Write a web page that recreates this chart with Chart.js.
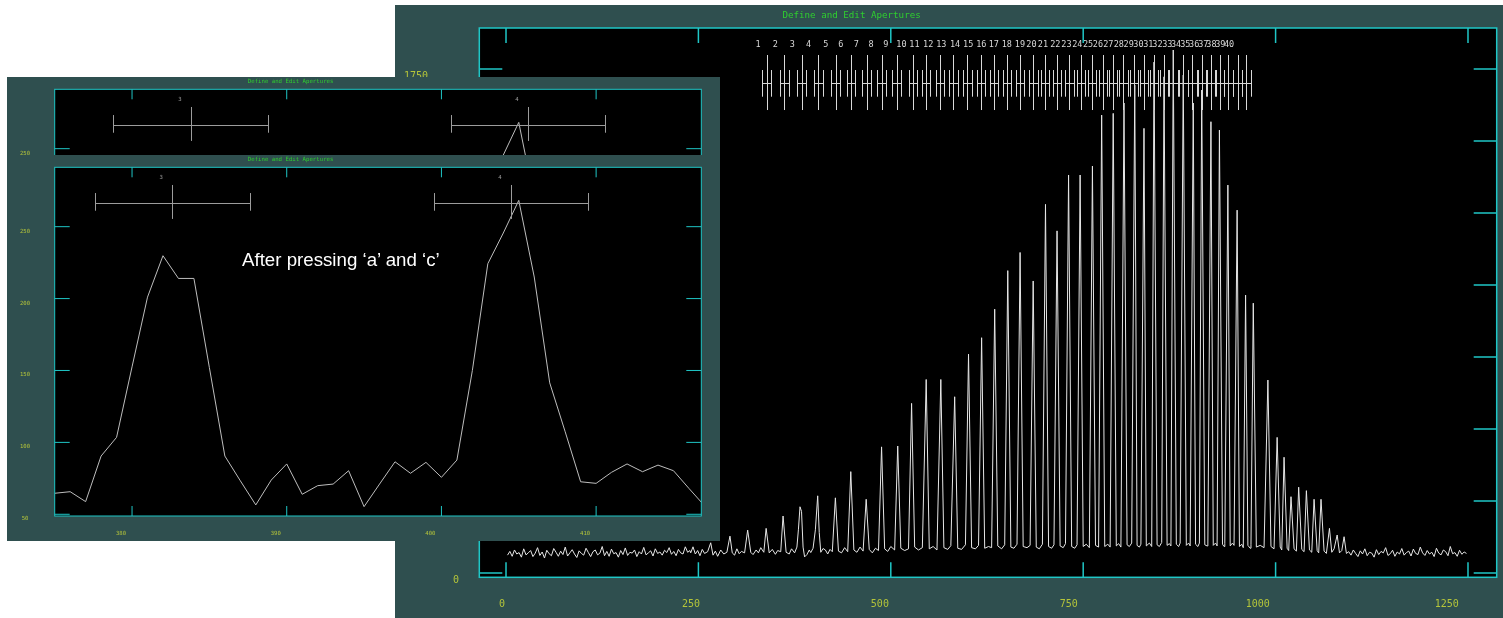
<!DOCTYPE html>
<html>
<head>
<meta charset="utf-8">
<script src="https://cdn.jsdelivr.net/npm/chart.js@4.4.1/dist/chart.umd.min.js"></script>
<style>
  html, body { margin: 0; padding: 0; background: #fff; width: 1503px; height: 618px; overflow: hidden; }
  .win { position: absolute; background: #2f4f4f; }
  #bigWin { left: 395px; top: 5px; width: 1108px; height: 613px; }
  #backWin { left: 7px; top: 77px; width: 713px; height: 386px; }
  #frontWin { left: 7px; top: 155px; width: 713px; height: 386px; }
  canvas { display: block; }
  #note { position: absolute; left: 235px; top: 94px; color: #fff; font: 18.7px "Liberation Sans", Arial, sans-serif; white-space: nowrap; }
</style>
</head>
<body>
<div class="win" id="bigWin"><canvas id="bigChart" width="1108" height="613"></canvas></div>
<div class="win" id="backWin"><canvas id="backChart" width="713" height="386"></canvas></div>
<div class="win" id="frontWin"><canvas id="frontChart" width="713" height="386"></canvas>
  <div id="note">After pressing ‘a’ and ‘c’</div>
</div>
<script>
// ---- big plot: whole spectrum ----
var bigXTicks = [0, 250, 500, 750, 1000, 1250];
var bigYTicks = [0, 250, 500, 750, 1000, 1250, 1500, 1750];
var apIds = [1,2,3,4,5,6,7,8,9,10,11,12,13,14,15,16,17,18,19,20,21,22,23,24,25,26,27,28,29,30,31,32,33,34,35,36,37,38,39,40];
var apCenters = [338.7,361.6,384.2,405.8,428.4,448.3,468.7,488.2,507.7,528.5,545.8,564,581.3,599.5,616.9,634.2,650.7,668,685.3,700.5,
                 715.7,732.1,746.9,761.2,775.5,788.5,802.3,816.2,829.2,842.2,855.2,867.3,880.3,892,904.2,915.9,928,938.8,950.5,962];

// flat noisy part left of the orders, one reading every 3 columns from column 2
var noiseLeft = [62,75,58,80,66,71,55,84,63,70,78,57,69,88,61,73,52,79,67,60,85,72,58,76,64,90,59,70,81,66,54,77,68,62,86,71,57,74,80,63,
                 69,92,60,75,58,83,67,71,55,78,64,87,61,72,69,80,57,74,66,89,63,70,77,59,84,68,73,62,79,71,88,65,75,60,82,70,66,91,72,78];
// orders: [column, counts]
var orders = [[240,70],[243,91],[246,66],[249,78],[252,60],[255,82],[258,68],[262,74],[266,105],[269,62],[272,76],[275,58],[279,80],[283,66],
  [287,72],[291,128],[294,70],[297,62],[300,84],[303,67],[306,75],[310,70],[314,149],[318,72],[321,64],[325,80],[328,70],[331,88],[335,72],
  [338,155],[342,70],[346,82],[350,65],[353,78],[357,74],[360,198],[364,72],[368,66],[371,84],[375,70],[378,90],[380,152],[382,230],[384,214],
  [386,90],[388,56],[391,64],[394,80],[396,71],[399,86],[402,150],[405,268],[407,141],[409,72],[412,85],[415,80],[418,66],[421,82],[424,74],
  [428,261],[432,76],[436,70],[440,88],[444,74],[448,352],[452,80],[456,72],[460,90],[464,76],[468,256],[472,82],[476,70],[480,86],[484,78],
  [488,438],[492,84],[496,75],[500,92],[505,80],[509,441],[513,86],[518,78],[523,84],[527,589],[531,90],[536,80],[541,88],[546,672],[550,84],
  [555,92],[560,80],[565,672],[569,88],[574,82],[578,95],[583,612],[587,86],[592,82],[597,98],[601,760],[605,88],[610,84],[614,96],[618,817],
  [622,86],[627,92],[631,88],[635,916],[639,94],[644,84],[648,98],[652,1050],[656,90],[660,86],[664,100],[668,1113],[672,92],[677,88],[681,96],
  [685,1014],[689,90],[693,84],[697,100],[701,1280],[705,92],[709,86],[712,98],[716,1188],[720,94],[724,88],[727,102],[731,1382],[735,92],
  [739,86],[742,98],[746,1382],[750,92],[754,100],[758,88],[762,1413],[766,96],[770,90],[774,1590],[778,92],[782,100],[785,90],[789,1596],
  [793,94],[796,102],[799,90],[803,1632],[807,98],[810,92],[813,104],[817,1694],[820,96],[823,90],[825,100],[829,1544],[832,94],[836,104],
  [839,92],[842,1774],[846,98],[849,92],[852,106],[855,1723],[859,96],[862,102],[864,94],[867,1816],[871,100],[874,92],[876,104],[880,1729],
  [884,96],[887,104],[889,94],[893,1632],[896,100],[899,92],[901,104],[904,1677],[908,98],[911,94],[912,104],[916,1567],[919,96],[922,104],
  [924,94],[927,1538],[931,100],[933,92],[934,102],[938,1347],[941,94],[944,104],[946,96],[950,1260],[953,92],[956,100],[958,88],[961,965],
  [964,96],[967,86],[968,98],[971,937],[975,90],[980,96],[985,88],[990,670],[994,92],[998,84],[1002,471],[1006,90],[1008,80],[1011,402],
  [1015,86],[1017,78],[1020,265],[1024,84],[1027,76],[1030,298],[1034,82],[1037,74],[1040,286],[1044,80],[1047,72],[1050,256],[1054,78],
  [1056,70],[1059,256],[1063,76],[1066,68],[1070,155],[1073,72],[1076,84],[1080,132],[1083,70],[1086,78],[1089,126],[1092,68]];
// flat noisy part right of the orders, every 3 columns from column 1095
var noiseRight = [74,62,80,68,57,77,66,84,60,72,69,55,81,64,75,70,88,61,67,79,58,73,66,85,62,71,76,59,83,68,64,90,70,61,78,66,72,57,86,69,
                  63,80,74,60,92,67,71,58,79,65,73,68];

// ---- zoomed plots: apertures 3 and 4 ----
var zoomX = [375,376,377,378,379,380,381,382,383,384,385,386,387,388,389,390,391,392,393,394,395,396,397,398,399,400,401,402,403,404,405,406,407,408,409,410,411,412,413,414,415,416,417];
var zoomY = [64.6,65.7,58.8,90.5,103.5,152.5,201,229.8,214,214,152,90.5,73.3,56.5,73.8,85,63.9,69.9,71,80.3,55.3,71,86.5,78.5,86.1,75.7,87.7,150,224.3,245.6,268.3,215,141.4,107.4,72.6,71.5,79.2,85,79.6,84.2,80.3,68,56];
var zoomXTicks = [380, 390, 400, 410];
var zoomYTicks = [50, 100, 150, 200, 250];
var zoomApIds = [3, 4];
var frontAps = [382.6, 404.5];
var backAps = [383.8, 405.6];

var CYAN = '#1fc6c6';
var LABEL = '#b4c43a';
var GREEN = '#2fcf2f';

// IRAF style frame: box, inward ticks, labels, aperture markers, title
function irafFrame(o) {
  return {
    id: 'iraf',
    beforeDraw: function (chart) {
      var a = chart.chartArea, ctx = chart.ctx;
      ctx.save();
      ctx.fillStyle = '#000';
      ctx.fillRect(a.left, a.top, a.right - a.left, a.bottom - a.top);
      ctx.restore();
    },
    afterDatasetsDraw: function (chart) {
      var a = chart.chartArea, ctx = chart.ctx;
      var xs = chart.scales.x, ys = chart.scales.y;
      ctx.save();
      // aperture markers
      ctx.strokeStyle = o.ap.color;
      ctx.lineWidth = 1;
      ctx.fillStyle = o.ap.color;
      ctx.font = o.ap.font;
      ctx.textAlign = 'center';
      ctx.textBaseline = 'middle';
      o.ap.centers.forEach(function (c, i) {
        var px = Math.round(xs.getPixelForValue(c)) + 0.5;
        var l = Math.round(xs.getPixelForValue(c - o.ap.half)) + 0.5;
        var r = Math.round(xs.getPixelForValue(c + o.ap.half)) + 0.5;
        var bar = Math.round(ys.getPixelForValue(o.ap.bar)) + 0.5;
        ctx.beginPath();
        ctx.moveTo(px, ys.getPixelForValue(o.ap.line[0]));
        ctx.lineTo(px, ys.getPixelForValue(o.ap.line[1]));
        ctx.moveTo(l, bar); ctx.lineTo(r, bar);
        [l, r].forEach(function (e) {
          ctx.moveTo(e, ys.getPixelForValue(o.ap.caps[0]));
          ctx.lineTo(e, ys.getPixelForValue(o.ap.caps[1]));
        });
        ctx.stroke();
        ctx.fillText(String(o.ap.ids[i]), o.labelX(xs.getPixelForValue(c)), ys.getPixelForValue(o.ap.label));
      });
      // frame
      ctx.strokeStyle = CYAN;
      ctx.lineWidth = o.bw;
      ctx.strokeRect(a.left, a.top, a.right - a.left, a.bottom - a.top);
      ctx.beginPath();
      o.xTicks.forEach(function (v) {
        var px = xs.getPixelForValue(v);
        ctx.moveTo(px, a.bottom); ctx.lineTo(px, a.bottom - o.xLen);
        ctx.moveTo(px, a.top); ctx.lineTo(px, a.top + o.xLen);
      });
      o.yTicks.forEach(function (v) {
        var py = ys.getPixelForValue(v);
        ctx.moveTo(a.left, py); ctx.lineTo(a.left + o.yLen, py);
        ctx.moveTo(a.right, py); ctx.lineTo(a.right - o.yLen, py);
      });
      ctx.stroke();
      // tick labels
      ctx.fillStyle = LABEL;
      ctx.font = o.font;
      o.xTicks.forEach(function (v) {
        ctx.fillText(String(v), o.labelX(xs.getPixelForValue(v)), o.xLabelY);
      });
      o.yTicks.forEach(function (v) {
        ctx.fillText(String(v), o.yLabelX(String(v)), ys.getPixelForValue(v) + o.yLabelDy);
      });
      // title
      ctx.fillStyle = GREEN;
      ctx.font = o.title.font;
      ctx.fillText('Define and Edit Apertures', o.title.x, o.title.y);
      ctx.restore();
    }
  };
}

function makeChart(id, data, lineColor, scales, padding, frame) {
  return new Chart(document.getElementById(id).getContext('2d'), {
    type: 'line',
    data: {
      datasets: [{
        data: data,
        borderColor: lineColor,
        borderWidth: 1,
        pointRadius: 0,
        tension: 0,
        fill: false
      }]
    },
    options: {
      responsive: false,
      animation: false,
      devicePixelRatio: 1,
      layout: { padding: padding },
      plugins: { legend: { display: false }, tooltip: { enabled: false } },
      scales: {
        x: { type: 'linear', min: scales[0], max: scales[1], display: false },
        y: { type: 'linear', min: scales[2], max: scales[3], display: false }
      }
    },
    plugins: [irafFrame(frame)]
  });
}

// big chart data
var bigData = [];
noiseLeft.forEach(function (v, i) { bigData.push({ x: 2 + 3 * i, y: v }); });
orders.forEach(function (p) { bigData.push({ x: p[0], y: p[1] }); });
noiseRight.forEach(function (v, i) { bigData.push({ x: 1095 + 3 * i, y: v }); });

makeChart('bigChart', bigData, '#e6e6e6', [-34.7, 1287.3, -14.9, 1892.4],
  { left: 84.3, right: 6.3, top: 23, bottom: 40.7 },
  {
    bw: 1.5, xTicks: bigXTicks, yTicks: bigYTicks, xLen: 15, yLen: 23,
    font: '10px "DejaVu Sans Mono", monospace',
    labelX: function (px) { return 107 + (px - 111) * 0.982; },
    xLabelY: 599, yLabelDy: 7.5,
    yLabelX: function (s) { return 61 - (s.length - 1) * 13.3; },
    title: { x: 456.6, y: 10.7, font: '9.2px "DejaVu Sans Mono", monospace' },
    ap: { centers: apCenters, ids: apIds, half: 5.5, label: 1833, line: [1607.6, 1798.6], bar: 1700.3,
          caps: [1653.8, 1746.5], font: '8.5px "DejaVu Sans Mono", monospace', color: '#d8d8d8' }
  });

var zoomData = zoomX.map(function (x, i) { return { x: x, y: zoomY[i] }; });
function zoomFrame(aps) {
  return {
    bw: 1, xTicks: zoomXTicks, yTicks: zoomYTicks, xLen: 10, yLen: 15,
    font: '5.6px "DejaVu Sans Mono", monospace',
    labelX: function (px) { return px - 11; },
    xLabelY: 379, yLabelDy: 4.5,
    yLabelX: function (s) { return 18; },
    title: { x: 283.6, y: 4.3, font: '5.7px "DejaVu Sans Mono", monospace' },
    ap: { centers: aps, ids: zoomApIds, half: 5.0, label: 284, line: [255.4, 279], bar: 266.7,
          caps: [261.1, 273.4], font: '5.6px "DejaVu Sans Mono", monospace', color: '#9c9c9c' }
  };
}
var zoomPad = { left: 47.7, right: 18.7, top: 12.3, bottom: 25 };
makeChart('backChart', zoomData, '#bdbdbd', [375, 416.8, 48.8, 291.3], zoomPad, zoomFrame(backAps));
makeChart('frontChart', zoomData, '#bdbdbd', [375, 416.8, 48.8, 291.3], zoomPad, zoomFrame(frontAps));
</script>
</body>
</html>
